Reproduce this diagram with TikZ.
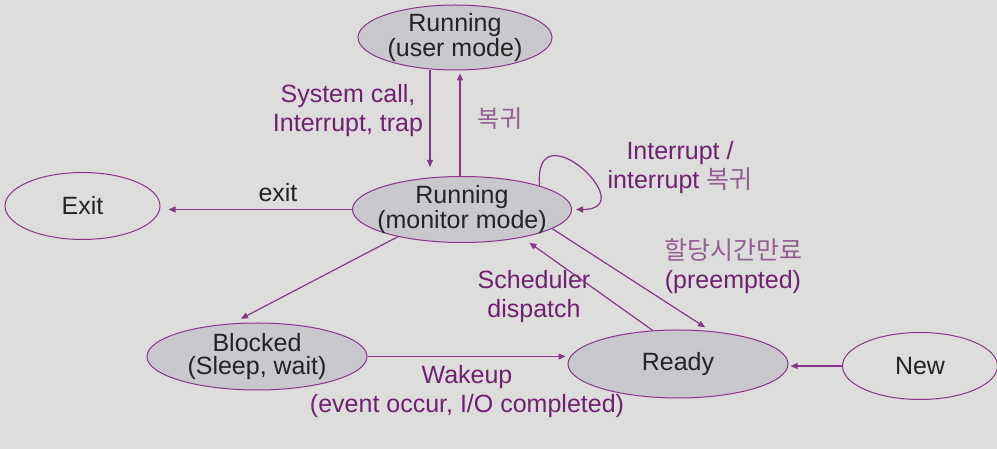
\documentclass[tikz,border=0pt]{standalone}
\usepackage{fontspec}
\setmainfont{Liberation Sans}
\newfontfamily\krfont{Noto Sans CJK KR}
\usetikzlibrary{arrows.meta,shapes.geometric}
\definecolor{bggray}{RGB}{221,221,219}
\definecolor{statefill}{RGB}{200,200,205}
\definecolor{edgepurple}{RGB}{135,55,135}
\definecolor{labelpurple}{RGB}{112,32,112}
\definecolor{krpurple}{RGB}{145,95,145}
\definecolor{statetext}{RGB}{35,35,35}

\begin{document}
\begin{tikzpicture}[x=1pt,y=1pt,state/.style={ellipse,draw=edgepurple,line width=1pt,inner xsep=-30pt,inner ysep=-12pt,minimum width=219pt,minimum height=66pt,align=center,text=statetext,font=\fontsize{25}{23}\selectfont},openstate/.style={state,minimum width=155pt,minimum height=67pt},greystate/.style={state,fill=statefill},lbl/.style={align=center,text=labelpurple,font=\fontsize{25}{29}\selectfont},arr/.style={-{Triangle[length=7pt,width=6pt]},draw=edgepurple,line width=1.2pt}]
\useasboundingbox[fill=bggray](0,0)rectangle(997,449);
\node[greystate,minimum width=194pt,minimum height=65pt](user) at (455,411.5){Running\\(user mode)};
\node[greystate](mon) at (462,239.5){Running\\(monitor mode)};
\node[openstate](exit) at (82.5,243){Exit};
\node[greystate,minimum width=220pt,minimum height=67pt](blocked) at (257,92.5){Blocked\\(Sleep, wait)};
\node[greystate,minimum width=220pt,minimum height=68pt](ready) at (678,85){Ready};
\node[openstate](new) at (920,83){New};
\node[lbl](syscall) at (348,338){System call,\\Interrupt, trap};
\node[lbl,text=krpurple,font=\krfont\fontsize{24}{29}\selectfont](ret) at (500,330){복귀};
\node[lbl](intr) at (680,281){Interrupt /\\interrupt {\krfont\color{krpurple}복귀}};
\node[lbl,text=statetext](exitlbl) at (278,256){exit};
\node[lbl](sched) at (534,152){Scheduler\\dispatch};
\node[lbl](preempt) at (733,183){{\krfont\color{krpurple}할당시간만료}\\(preempted)};
\node[lbl](wake) at (467,57){Wakeup\\(event occur, I/O completed)};
\draw[arr,shorten >=9pt]([xshift=-25pt]user.south)--([xshift=-32pt]mon.north);\draw[arr,shorten >=3pt]([xshift=-2pt]mon.north)--([xshift=5pt]user.south);
\draw[arr,shorten >=4pt](mon.17)to[out=95,in=0,out distance=80pt,in distance=72pt](mon.east);
\draw[arr,shorten >=8pt](mon.west)--(mon.west -| exit.east);
\draw[arr,shorten >=10pt](mon.203)--(blocked.127);\draw[arr,shorten >=7pt](mon.-12)--(ready.45);\draw[arr,shorten >=9pt](ready.127)--(mon.-25);
\draw[arr,shorten >=2pt](blocked.east)--(blocked.east -| ready.west);\draw[arr,shorten >=2pt](new.west)--(new.west -| ready.east);
\end{tikzpicture}
\end{document}
